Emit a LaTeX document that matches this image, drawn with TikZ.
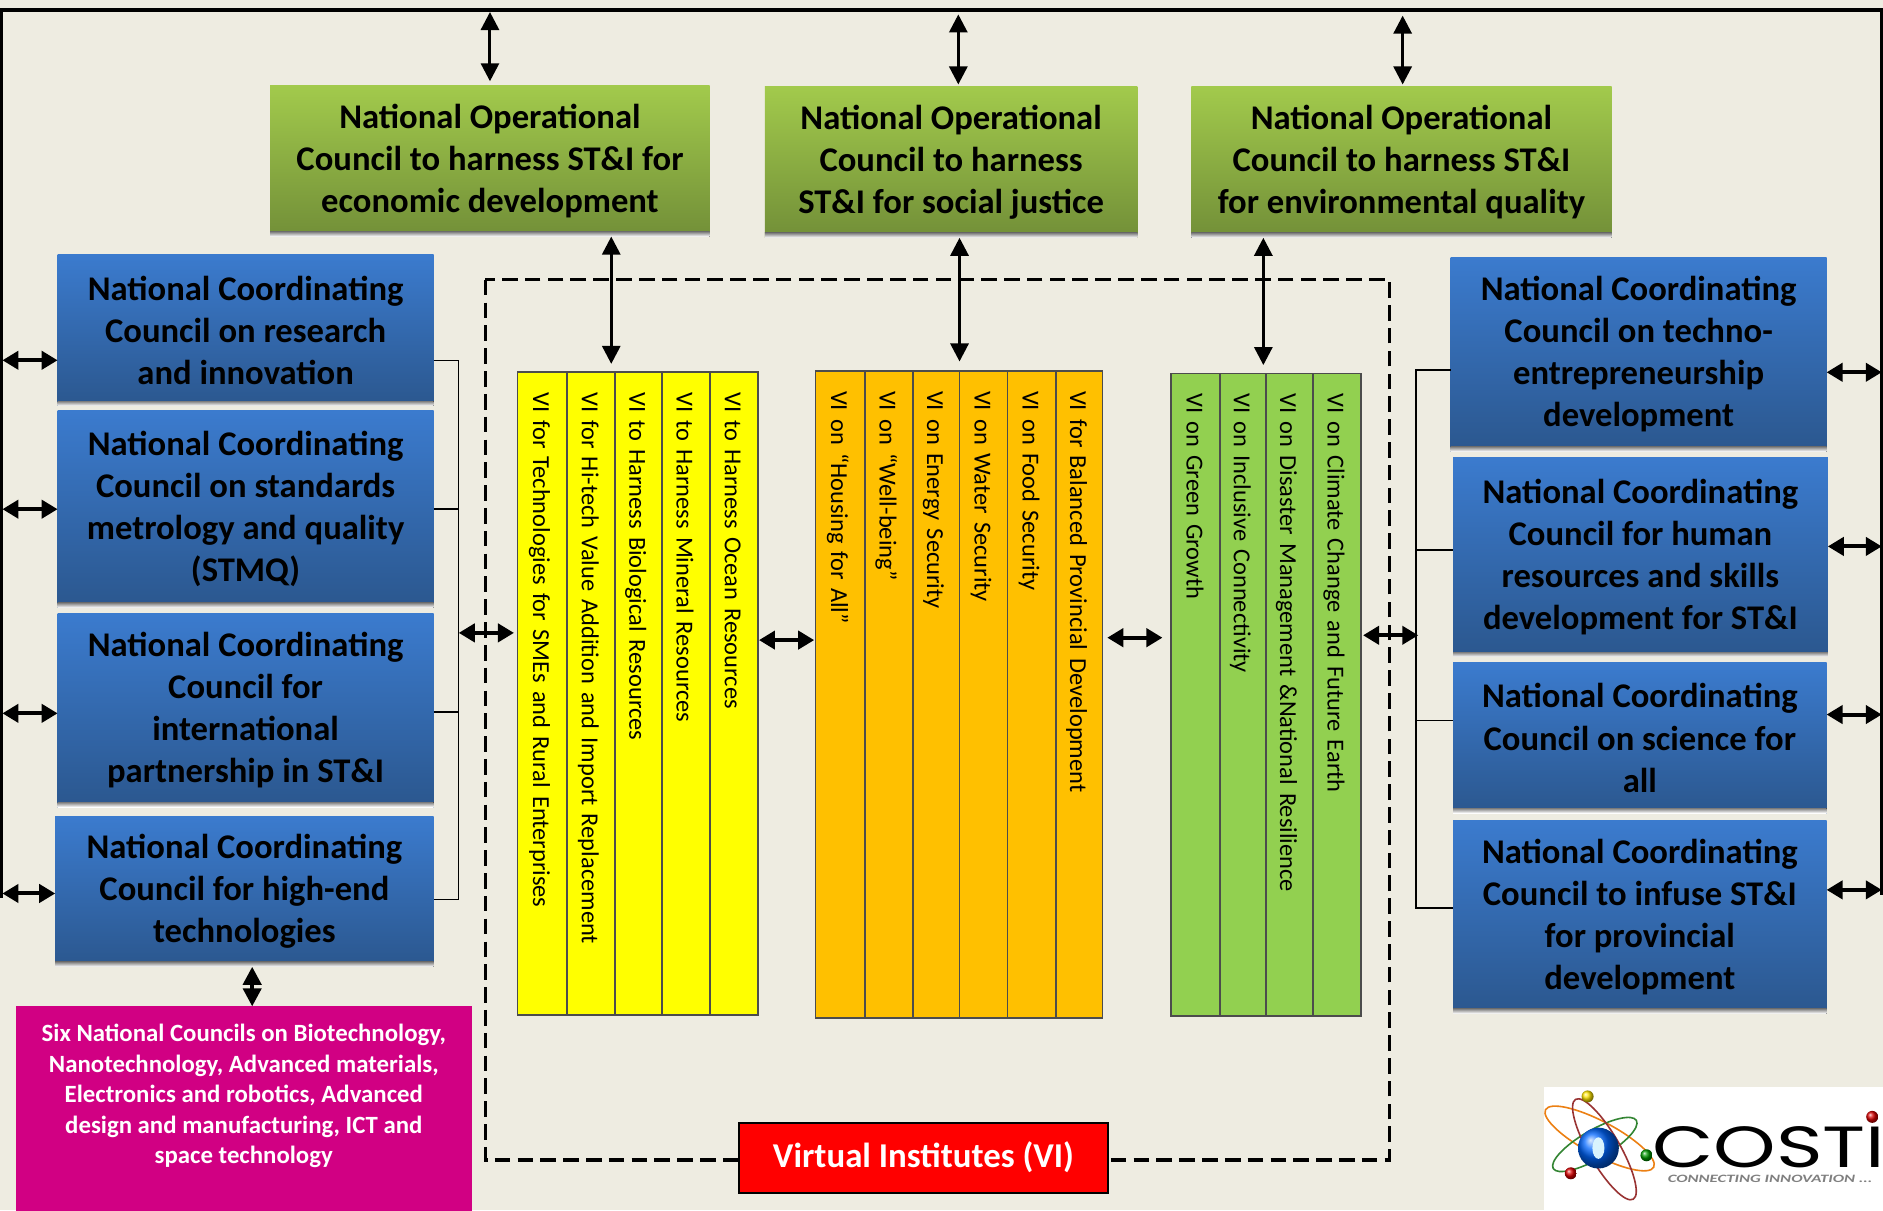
\documentclass[tikz,border=0pt]{standalone}
\usepackage{fontspec}
\setmainfont{Carlito}
\newfontfamily\costifont[FakeStretch=1.37]{Poppins}
\newfontfamily\costisubfont[FakeStretch=1.5]{Carlito}
\usetikzlibrary{arrows.meta,calc}
\definecolor{bg}{HTML}{EEECE1}
\definecolor{shade}{HTML}{A09C94}
\definecolor{gtop}{HTML}{A2CA4C}
\definecolor{gbot}{HTML}{728F38}
\definecolor{btop}{HTML}{3B7BCE}
\definecolor{bbot}{HTML}{2B578E}
\definecolor{pinkbox}{HTML}{D10083}
\definecolor{viy}{HTML}{FFFF00}
\definecolor{vio}{HTML}{FFC000}
\definecolor{vig}{HTML}{92D050}
\tikzset{
  x=0.6pt,y=-0.6pt,
  base/.style={inner sep=0pt,outer sep=0pt,align=center},
  head/.style={base,font=\fontsize{17.3}{21}\bfseries\selectfont,text=black},
  greenbox/.style={head,top color=gtop,bottom color=gbot},
  bluebox/.style={head,top color=btop,bottom color=bbot},
  pinknode/.style={base,fill=pinkbox,text=white,font=\fontsize{12.4}{15.2}\bfseries\selectfont},
  rednode/.style={base,fill=red,draw=black,line width=1pt,text=white,font=\fontsize{17.4}{21}\bfseries\selectfont},
  vicol/.style={inner ysep=0pt,inner xsep=10pt,outer sep=0pt,draw=black!70,line width=0.9pt,align=left,rotate=-90,text height=10pt,text depth=1pt,font=\fontsize{12.2}{13}\selectfont},
  dbl/.style={line width=1.5pt,{Stealth[inset=0pt,length=9pt,width=9pt]}-{Stealth[inset=0pt,length=9pt,width=9pt]}},
  dblh/.style={line width=2pt,{Stealth[inset=0pt,length=8pt,width=9pt]}-{Stealth[inset=0pt,length=8pt,width=9pt]}},
  thinln/.style={line width=0.7pt,draw=black},
  frameln/.style={line width=2pt,draw=black},
  dashln/.style={line width=1.6pt,draw=black,dash pattern=on 7.8pt off 3.6pt},
}
\newcommand\bx[7]{%
  \pgfmathsetmacro\cxx{(#2+#4)/2}\pgfmathsetmacro\cyy{(#3+#5)/2}%
  \node[#6,minimum width={(#4-#2)*0.6pt},minimum height={(#5-#3)*0.6pt}] (#1) at (\cxx,\cyy) {#7};}
\newcommand\hd[7]{%
  \pgfmathsetmacro\yb{#5+6}%
  \bx{#1}{#2}{#3}{#4}{\yb}{#6}{#7}
  \fill[shade] (#2,#5+2) rectangle (#4,#5+6);}
\newcommand\vi[7]{%
  \pgfmathsetmacro\cxx{(#2+#3)/2}\pgfmathsetmacro\cyy{(#4+#5)/2}%
  \pgfmathsetmacro\tw{(#5-#4)*0.6-20}%
  \node[vicol,fill=#6,text width=\tw pt,minimum height={(#3-#2)*0.6pt}] (#1) at (\cxx,\cyy) {#7};}
\begin{document}
\begin{tikzpicture}
\useasboundingbox (0,0) rectangle (1568,1007.6);
\fill[bg] (0,0) rectangle (1568,1007.6);
% frame
\coordinate (fl) at (1,748);
\coordinate (ftl) at (1,8);
\coordinate (ftr) at (1567,8);
\coordinate (fr) at (1567,745);
\draw[frameln] (fl) -- (ftl) -- (ftr) -- (fr);
% dashed VI frame
\draw[dashln] (404,233) rectangle (1157,966);
% green
\hd{g1}{225}{71}{591}{191}{greenbox}{National Operational\\Council to harness ST\&I for\\economic development}
\hd{g2}{637}{72}{947}{192}{greenbox}{National Operational\\Council to harness\\ST\&I for social justice}
\hd{g3}{992}{72}{1342}{192}{greenbox}{National Operational\\Council to harness ST\&I\\for environmental quality}
% blue left
\hd{l1}{48}{212}{361}{332}{bluebox}{National Coordinating\\Council on research\\and innovation}
\hd{l2}{48}{342}{361}{500}{bluebox}{National Coordinating\\Council on standards\\metrology and quality\\(STMQ)}
\hd{l3}{48}{511}{361}{666}{bluebox}{National Coordinating\\Council for\\international\\partnership in ST\&I}
\hd{l4}{46}{680}{361}{799}{bluebox}{National Coordinating\\Council for high-end\\technologies}
% blue right
\hd{r1}{1208}{214}{1521}{370}{bluebox}{National Coordinating\\Council on techno-\\entrepreneurship\\development}
\hd{r2}{1210}{381}{1522}{541}{bluebox}{National Coordinating\\Council for human\\resources and skills\\development for ST\&I}
\hd{r3}{1210}{552}{1521}{671}{bluebox}{National Coordinating\\Council on science for\\all}
\hd{r4}{1210}{683}{1521}{838}{bluebox}{National Coordinating\\Council to infuse ST\&I\\for provincial\\development}
% pink
\node[pinknode,anchor=north west,minimum width={380*0.6pt},minimum height={170*0.6pt},text depth=0pt] (pink) at (13,838) {};
\node[pinknode,fill=none,anchor=north] (pinktxt) at (203,853) {Six National Councils on Biotechnology,\\Nanotechnology, Advanced materials,\\Electronics and robotics, Advanced\\design and manufacturing, ICT and\\space technology};
% red
\bx{vibox}{615}{935}{923}{993}{rednode}{Virtual Institutes (VI)}
% VI columns
\vi{y1}{431}{472}{310}{845}{viy}{VI for Technologies for SMEs and Rural Enterprises}
\vi{y2}{472}{512}{310}{845}{viy}{VI for Hi-tech Value Addition and Import Replacement}
\vi{y3}{512}{551}{310}{845}{viy}{VI to Harness Biological Resources}
\vi{y4}{551}{591}{310}{845}{viy}{VI to Harness Mineral Resources}
\vi{y5}{591}{631}{310}{845}{viy}{VI to Harness Ocean Resources}
\vi{o1}{679}{720}{309}{848}{vio}{VI on “Housing for All”}
\vi{o2}{720}{760}{309}{848}{vio}{VI on “Well-being”}
\vi{o3}{760}{799}{309}{848}{vio}{VI on Energy Security}
\vi{o4}{799}{839}{309}{848}{vio}{VI on Water Security}
\vi{o5}{839}{879}{309}{848}{vio}{VI on Food Security}
\vi{o6}{879}{918}{309}{848}{vio}{VI for Balanced Provincial Development}
\vi{e1}{975}{1016}{311}{846}{vig}{VI on Green Growth}
\vi{e2}{1016}{1054}{311}{846}{vig}{VI on Inclusive Connectivity}
\vi{e3}{1054}{1093}{311}{846}{vig}{VI on Disaster Management \&National Resilience}
\vi{e4}{1093}{1133}{311}{846}{vig}{VI on Climate Change and Future Earth}
% arrows: outer frame to operational councils
\coordinate (t1) at (408,10);
\coordinate (t2) at (798,12);
\coordinate (t3) at (1168,13);
\draw[dbl,shorten >=2pt] (t1) -- (t1 |- g1.north);
\draw[dbl,shorten >=1pt] (t2) -- (t2 |- g2.north);
\draw[dbl,shorten >=1pt] (t3) -- (t3 |- g3.north);
% arrows: operational councils to VI groups
\coordinate (c1) at (509,197);
\coordinate (c2) at (799,196);
\coordinate (c3) at (1052,198);
\draw[dbl,shorten >=4.2pt] (g1.south -| c1) -- (y3.west -| c1);
\draw[dbl,shorten >=4.8pt] (g2.south -| c2) -- (o3.west -| c2);
\draw[dbl,shorten >=4.2pt] (g3.south -| c3) -- (e2.west -| c3);
% arrows: frame to blue boxes
\coordinate (la) at (2,300); \coordinate (lb) at (2,424); \coordinate (lc) at (2,594); \coordinate (ld) at (2,744);
\draw[dblh] (la) -- (la -| l1.west);
\draw[dblh] (lb) -- (lb -| l2.west);
\draw[dblh] (lc) -- (lc -| l3.west);
\draw[dblh] (ld) -- (ld -| l4.west);
\coordinate (ra) at (1567,310); \coordinate (rb) at (1567,455); \coordinate (rc) at (1567,595); \coordinate (rd) at (1567,741);
\draw[dblh] (ra -| r1.east) -- (ra);
\draw[dblh] (rb -| r2.east) -- (rb);
\draw[dblh] (rc -| r3.east) -- (rc);
\draw[dblh] (rd -| r4.east) -- (rd);
% pink link
\coordinate (pk) at (210,838);
\draw[dbl,line width=2pt] (pk |- l4.south) -- (pk |- pink.north);
% brackets
\coordinate (lbx) at (382,527);
\draw[thinln] (l1.east |- la) -- (la -| lbx) -- ($(ld -| lbx)+(0,5)$) -- ($(l4.east |- ld)+(0,5)$);
\draw[thinln] (l2.east |- lb) -- (lb -| lbx);
\draw[thinln] ($(l3.east |- lc)+(0,-1)$) -- ($(lc -| lbx)+(0,-1)$);
\coordinate (rbx) at (1179,529);
\draw[thinln] (r1.west |- 0,308) -- (rbx |- 0,308) -- (rbx |- 0,756) -- (r4.west |- 0,756);
\draw[thinln] (rbx |- 0,458) -- (r2.west |- 0,458);
\draw[thinln] (rbx |- 0,600) -- (r3.west |- 0,600);
% block-to-block arrows
\coordinate (m1) at (382,527);
\coordinate (m2) at (632,533);
\coordinate (m3) at (922,531);
\coordinate (m4) at (1181,529);
\draw[dblh,shorten >=1.8pt] (m1) -- (m1 -| y1.south);
\draw[dblh,shorten <=0.6pt,shorten >=0.6pt] (y5.north |- m2) -- (o1.south |- m2);
\draw[dblh,shorten <=2.4pt,shorten >=4.2pt] (o6.north |- m3) -- (e1.south |- m3);
\draw[dblh,shorten <=1.2pt] (e4.north |- m4) -- (m4);
% logo
\fill[white] (1286,905) rectangle (1568,1007.6);
\begin{scope}[line width=0.8pt]
\draw[orange!70!brown,rotate around={-28:(1332,948)}] (1332,948) ellipse [x radius=51,y radius=14];
\draw[green!40!black!80,rotate around={30:(1328,953)}] (1328,953) ellipse [x radius=40,y radius=12];
\draw[red!50!black!80,rotate around={-60:(1336,957)}] (1336,957) ellipse [x radius=48,y radius=13];
\end{scope}
\shade[ball color=blue!60!cyan] (1331,956) circle [radius=17];
\fill[white!85!cyan] (1331,956) ellipse [x radius=5,y radius=9];
\shade[ball color=yellow!80!orange] (1322,913) circle [radius=5];
\shade[ball color=green!60!black] (1371,962) circle [radius=5];
\shade[ball color=red!85!black] (1308,977) circle [radius=5];
\shade[ball color=red!85!black] (1559,930) circle [radius=5];
\node[base,font=\costifont\fontsize{29}{29}\selectfont,text=black,anchor=center] (costi) at (1473,955) {COSTI};
\node[base,font=\costisubfont\fontsize{5.6}{6}\bfseries\itshape\selectfont,text=black!50,anchor=center] (costisub) at (1474,981.5) {CONNECTING INNOVATION ...};
\end{tikzpicture}
\end{document}
